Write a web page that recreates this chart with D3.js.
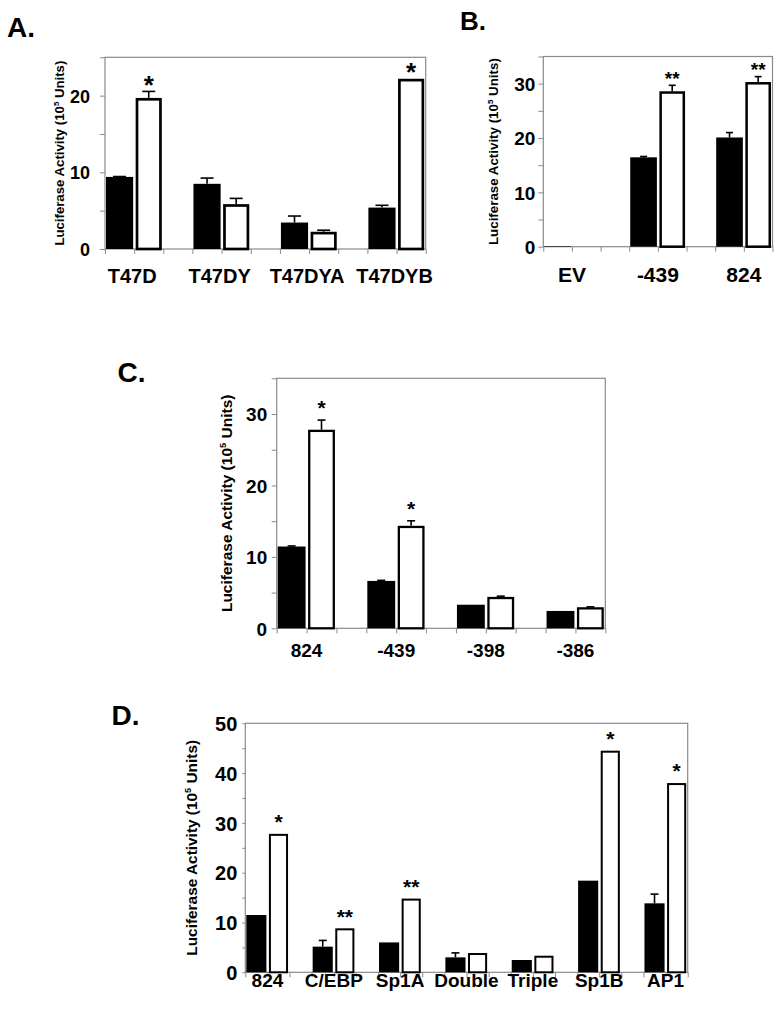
<!DOCTYPE html>
<html>
<head>
<meta charset="utf-8">
<script src="https://cdn.jsdelivr.net/npm/d3@7"></script>
<style>
  html, body { margin: 0; padding: 0; background: #fff; }
  svg { display: block; }
</style>
</head>
<body>
<svg id="chart" width="782" height="1009"></svg>
<script>
// ---------------- DATA ----------------
// Panel A
const catsA = ["T47D", "T47DY", "T47DYA", "T47DYB"];
const blackA = [9.4, 8.5, 3.45, 5.4];
const blackErrA = [0.05, 0.75, 0.85, 0.3];
const whiteA = [19.7, 5.85, 2.25, 22.2];
const whiteErrA = [0.85, 0.75, 0.2, 0];
const starsA = ["*", "", "", "*"];

// Panel B
const catsB = ["EV", "-439", "824"];
const blackB = [0.1, 16.45, 20.1];
const blackErrB = [0, 0.15, 0.9];
const whiteB = [0.1, 28.6, 30.3];
const whiteErrB = [0, 1.1, 1.0];
const starsB = ["", "**", "**"];

// Panel C
const catsC = ["824", "-439", "-398", "-386"];
const blackC = [11.45, 6.63, 3.3, 2.43];
const blackErrC = [0.08, 0.08, 0, 0];
const whiteC = [27.8, 14.35, 4.4, 2.95];
const whiteErrC = [1.35, 0.7, 0.1, 0.05];
const starsC = ["*", "*", "", ""];

// Panel D
const catsD = ["824", "C/EBP", "Sp1A", "Double", "Triple", "Sp1B", "AP1"];
const blackD = [11.5, 5.15, 6.0, 3.0, 2.47, 18.4, 13.85];
const blackErrD = [0, 1.25, 0, 0.9, 0, 0, 1.85];
const whiteD = [27.8, 8.83, 14.8, 3.87, 3.33, 44.5, 38.0];
const whiteErrD = [0, 0, 0, 0, 0, 0, 0];
const starsD = ["*", "**", "**", "", "", "*", "*"];

const yLabelText = "Luciferase Activity (10";
const yLabelSup = "5";
const yLabelTail = " Units)";

// ---------------- DRAWING ----------------
const FONT = "'Liberation Sans', Arial, Helvetica, sans-serif";
const GRAY = "#8a8a8a";
const svg = d3.select("#chart");

function panel(cfg, cats, black, blackErr, white, whiteErr, stars) {
  const g = svg.append("g");
  const n = cats.length;
  const nSlots = 3 * n - 1;
  const x = d3.scaleLinear().domain([0, nSlots]).range([cfg.x0, cfg.x1]);
  const y = d3.scaleLinear().domain([0, cfg.max]).range([cfg.yBase, cfg.yTop]);

  // y axis
  const ya = d3.axisLeft(y)
    .tickValues(d3.range(0, cfg.max + 0.1, 5))
    .tickSize(cfg.tickLen)
    .tickPadding(cfg.tickPad)
    .tickFormat(d => d % 10 === 0 ? d : "");
  g.append("g")
    .attr("transform", `translate(${cfg.x0},0)`)
    .call(ya)
    .call(s => {
      s.attr("font-family", FONT).attr("font-size", cfg.tickFs).attr("font-weight", "bold");
      s.select(".domain").remove();
      s.selectAll("line").attr("stroke", GRAY);
      s.selectAll("text").attr("fill", "#000").attr("dy", "0.36em");
    });

  // x axis (slot boundaries)
  const xa = d3.axisBottom(x)
    .tickValues(d3.range(0, nSlots + 1))
    .tickSize(5)
    .tickFormat("");
  g.append("g")
    .attr("transform", `translate(0,${cfg.yBase})`)
    .call(xa)
    .call(s => {
      s.select(".domain").remove();
      s.selectAll("line").attr("stroke", GRAY);
    });

  // frame
  g.append("rect")
    .attr("x", cfg.x0).attr("y", cfg.yTop)
    .attr("width", cfg.x1 - cfg.x0).attr("height", cfg.yBase - cfg.yTop)
    .attr("fill", "none").attr("stroke", GRAY).attr("stroke-width", 1.2);

  // black bars
  const bx = i => x(3 * i) + 1;
  const bw = i => x(3 * i + 1) - x(3 * i) - 2;
  g.selectAll(".blk").data(black).join("rect")
    .attr("x", (d, i) => bx(i))
    .attr("y", d => y(d))
    .attr("width", (d, i) => bw(i))
    .attr("height", d => cfg.yBase - y(d))
    .attr("fill", "#000");

  // white bars (thick outline inside the slot)
  const sw = cfg.sw;
  const wxo = i => x(3 * i + 1) + 1.5;
  const wwo = i => x(3 * i + 2) - x(3 * i + 1) - 3;
  g.selectAll(".wht").data(white).join("rect")
    .attr("x", (d, i) => wxo(i) + sw / 2)
    .attr("y", d => y(d) + sw / 2)
    .attr("width", (d, i) => wwo(i) - sw)
    .attr("height", d => Math.max(0, cfg.yBase - y(d) - sw / 2))
    .attr("fill", "#fff")
    .attr("stroke", "#000")
    .attr("stroke-width", sw);

  // error bars
  function errBars(vals, errs, cx) {
    vals.forEach((v, i) => {
      const e = errs[i];
      if (!(e > 0)) return;
      const c = cx(i);
      g.append("line")
        .attr("x1", c).attr("x2", c)
        .attr("y1", y(v)).attr("y2", y(v + e))
        .attr("stroke", "#000").attr("stroke-width", 1.6);
      g.append("line")
        .attr("x1", c - cfg.capW / 2).attr("x2", c + cfg.capW / 2)
        .attr("y1", y(v + e)).attr("y2", y(v + e))
        .attr("stroke", "#000").attr("stroke-width", 1.6);
    });
  }
  errBars(black, blackErr, i => bx(i) + bw(i) / 2);
  errBars(white, whiteErr, i => wxo(i) + wwo(i) / 2);

  // significance stars
  g.selectAll(".star").data(stars).join("text")
    .attr("x", (d, i) => wxo(i) + wwo(i) / 2)
    .attr("y", (d, i) => y(white[i] + whiteErr[i]) - cfg.starGap + 0.4 * cfg.starFs)
    .attr("text-anchor", "middle")
    .attr("font-family", FONT)
    .attr("font-weight", "bold")
    .attr("font-size", cfg.starFs)
    .text(d => d);

  // category labels
  g.selectAll(".cat").data(cats).join("text")
    .attr("x", (d, i) => x(3 * i + 1) + cfg.catDx)
    .attr("y", cfg.catBase)
    .attr("text-anchor", "middle")
    .attr("font-family", FONT)
    .attr("font-weight", "bold")
    .attr("font-size", cfg.catFs)
    .text(d => d);

  // y-axis title
  const cy = (cfg.yTop + cfg.yBase) / 2;
  const t = g.append("text")
    .attr("transform", `translate(${cfg.labelCx},${cy}) rotate(-90)`)
    .attr("text-anchor", "middle")
    .attr("font-family", FONT)
    .attr("font-weight", "bold");
  function build(fs) {
    t.selectAll("*").remove();
    t.attr("font-size", fs);
    t.append("tspan").attr("dy", 0.36 * fs).text(yLabelText);
    t.append("tspan").attr("font-size", 0.6 * fs).attr("dy", -0.42 * fs).text(yLabelSup);
    t.append("tspan").attr("dy", 0.42 * fs).text(yLabelTail);
  }
  build(14);
  const len = t.node().getComputedTextLength();
  if (len > 0) build(14 * cfg.labelLen / len);

  // panel letter
  svg.append("text")
    .attr("x", cfg.lx).attr("y", cfg.ly)
    .attr("font-family", FONT)
    .attr("font-weight", "bold")
    .attr("font-size", cfg.lfs)
    .text(cfg.letter);
}

panel({x0: 105, x1: 425.7, yTop: 57.3, yBase: 249, max: 25,
       tickLen: 5, tickPad: 10, tickFs: 18, catFs: 20, catBase: 282.5, catDx: -2,
       labelCx: 59.5, labelLen: 185, starFs: 26, starGap: 8, capW: 13, sw: 2.7,
       letter: "A.", lx: 7, ly: 36.7, lfs: 28},
      catsA, blackA, blackErrA, whiteA, whiteErrA, starsA);

panel({x0: 543.3, x1: 772.5, yTop: 56.5, yBase: 246.7, max: 35,
       tickLen: 5, tickPad: 3, tickFs: 19, catFs: 21, catBase: 281.5, catDx: 0,
       labelCx: 493.5, labelLen: 187, starFs: 19, starGap: 8, capW: 7, sw: 2.5,
       letter: "B.", lx: 460, ly: 30, lfs: 26},
      catsB, blackB, blackErrB, whiteB, whiteErrB, starsB);

panel({x0: 276.7, x1: 605.3, yTop: 378.3, yBase: 628.3, max: 35,
       tickLen: 5, tickPad: 4.5, tickFs: 19, catFs: 19, catBase: 656.5, catDx: 0,
       labelCx: 226.7, labelLen: 217.7, starFs: 21, starGap: 13.5, capW: 8, sw: 2.3,
       letter: "C.", lx: 117.5, ly: 381.7, lfs: 28},
      catsC, blackC, blackErrC, whiteC, whiteErrC, starsC);

panel({x0: 245.3, x1: 687.7, yTop: 723.3, yBase: 972.3, max: 50,
       tickLen: 3, tickPad: 5, tickFs: 20, catFs: 19, catBase: 987.3, catDx: 0,
       labelCx: 191.7, labelLen: 216, starFs: 21, starGap: 13, capW: 8, sw: 2.0,
       letter: "D.", lx: 111.5, ly: 725, lfs: 28},
      catsD, blackD, blackErrD, whiteD, whiteErrD, starsD);
</script>
</body>
</html>
